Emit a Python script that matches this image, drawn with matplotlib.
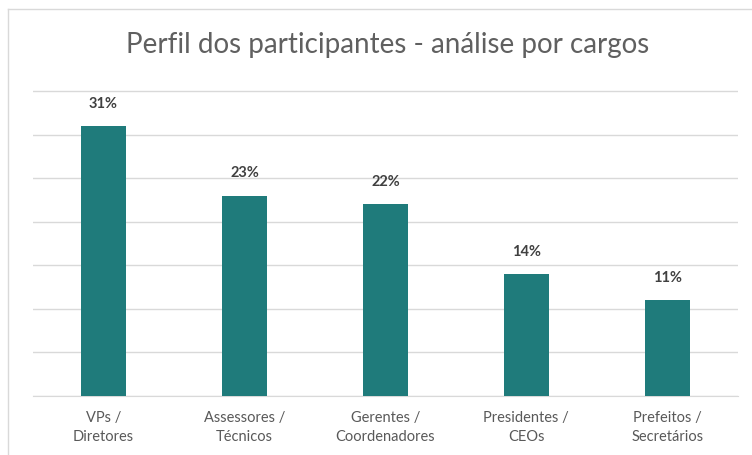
import matplotlib.pyplot as plt
from matplotlib.lines import Line2D

cargos = ['VPs /\nDiretores', 'Assessores /\nTécnicos', 'Gerentes /\nCoordenadores',
          'Presidentes /\nCEOs', 'Prefeitos /\nSecretários']
valores = [31, 23, 22, 14, 11]

plt.rcParams['font.family'] = ['Lato', 'DejaVu Sans']

fig = plt.figure(figsize=(7.52, 4.55), dpi=100)
ax = fig.add_axes([0.044, 0.1297, 0.937, 0.6743])

x = range(len(cargos))
ax.bar(x, valores, width=0.32, color='#1F7B7B', zorder=3)
for i, v in zip(x, valores):
    ax.annotate(f'{v}%', (i, v), xytext=(0, 11), textcoords='offset points',
                ha='center', va='bottom', fontsize=10.5, fontweight='bold', color='#404040')

ax.set_ylim(0, 35.2)
ax.set_xlim(-0.5, len(cargos) - 0.5)
ax.set_yticks(range(0, 36, 5))
ax.yaxis.grid(True, color='#D9D9D9', linewidth=1)
ax.tick_params(axis='y', left=False, labelleft=False)
ax.tick_params(axis='x', bottom=False, pad=7)
ax.set_xticks(list(x))
ax.set_xticklabels(cargos, fontsize=10.5, color='#595959', linespacing=1.45)
for s in ['top', 'right', 'left']:
    ax.spines[s].set_visible(False)
ax.spines['bottom'].set_color('#D9D9D9')

fig.text(388 / 752, 1 - 45 / 455, 'Perfil dos participantes - análise por cargos',
         ha='center', va='center', fontsize=20, color='#606060')

# moldura
fig.add_artist(Line2D([8 / 752, 1], [1 - 9 / 455, 1 - 9 / 455], color='#D9D9D9', lw=1))
fig.add_artist(Line2D([8 / 752, 8 / 752], [0, 1 - 9 / 455], color='#D9D9D9', lw=1))

fig.savefig('out.png', dpi=100)
